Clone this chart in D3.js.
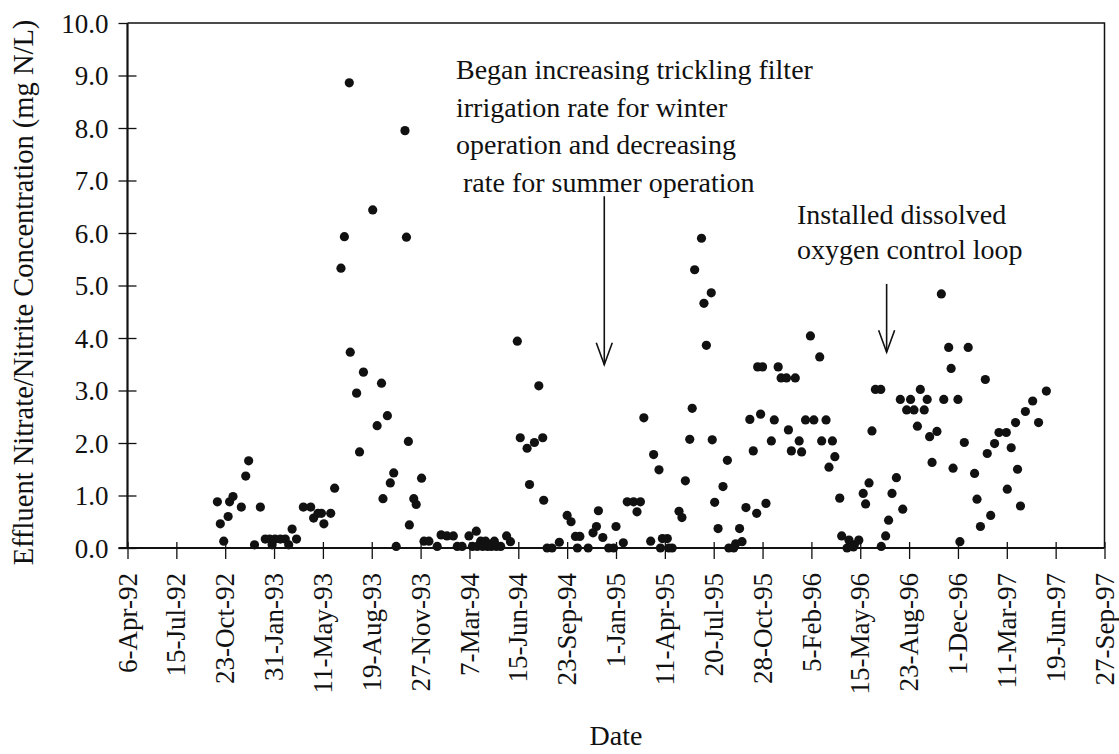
<!DOCTYPE html>
<html>
<head>
<meta charset="utf-8">
<script src="https://cdn.jsdelivr.net/npm/d3@7"></script>
<style>
  body { margin: 0; background: #fff; }
  text { font-family: "Liberation Serif", "Times New Roman", serif; fill: #111; }
</style>
</head>
<body>
<svg id="chart" width="1119" height="754"></svg>
<script>
// axis extent and ticks
const startDate = new Date(Date.UTC(1992, 3, 6));
const endDate = new Date(Date.UTC(1997, 8, 27));
const tickStepDays = 100;
const yTickValues = d3.range(0, 11);

// samples: days after 6-Apr-92, effluent NO3/NO2 (mg N/L)
const sampleDays = [
  184, 190, 197, 206, 209, 216, 233, 242, 248, 260,
  272, 282, 291, 296, 302, 313, 323, 330, 337, 346,
  360, 375, 381, 390, 397, 402, 416, 424, 437, 444,
  454, 456, 469, 475, 483, 502, 511, 520, 523, 532,
  538, 545, 550, 568, 571, 575, 577, 586, 591, 602,
  607, 617, 634, 642, 654, 667, 675, 685, 699, 706,
  714, 716, 723, 727, 733, 737, 745, 751, 755, 764,
  776, 784, 798, 804, 818, 823, 833, 842, 850, 852,
  859, 869, 884, 900, 908, 917, 921, 926, 943, 953,
  960, 964, 973, 985, 995, 1000, 1015, 1023, 1036, 1043,
  1050, 1057, 1071, 1077, 1088, 1091, 1095, 1105, 1108, 1115,
  1129, 1135, 1142, 1151, 1156, 1161, 1175, 1180, 1185, 1195,
  1197, 1202, 1209, 1219, 1228, 1231, 1241, 1245, 1253, 1258,
  1266, 1274, 1281, 1288, 1290, 1296, 1300, 1307, 1318, 1324,
  1332, 1338, 1349, 1353, 1359, 1367, 1375, 1380, 1388, 1398,
  1405, 1417, 1421, 1430, 1436, 1443, 1448, 1458, 1462, 1473,
  1477, 1486, 1488, 1497, 1506, 1511, 1518, 1524, 1531, 1542,
  1543, 1552, 1558, 1565, 1574, 1582, 1587, 1595, 1603, 1610,
  1617, 1623, 1631, 1637, 1642, 1647, 1657, 1666, 1671, 1681,
  1686, 1690, 1700, 1704, 1713, 1721, 1734, 1739, 1746, 1756,
  1760, 1767, 1775, 1784, 1799, 1801, 1809, 1818, 1822, 1828,
  1838, 1853, 1865, 1881
];
const nitrate = [
  0.88, 0.46, 0.13, 0.60, 0.88, 0.98, 0.78, 1.37, 1.66, 0.06,
  0.78, 0.17, 0.17, 0.06, 0.17, 0.17, 0.17, 0.06, 0.36, 0.17,
  0.78, 0.78, 0.57, 0.66, 0.66, 0.46, 0.66, 1.14, 5.33, 5.93,
  8.86, 3.73, 2.95, 1.83, 3.35, 6.44, 2.33, 3.14, 0.94, 2.52,
  1.24, 1.43, 0.03, 7.95, 5.92, 2.03, 0.44, 0.94, 0.83, 1.33,
  0.13, 0.13, 0.03, 0.25, 0.23, 0.23, 0.03, 0.03, 0.23, 0.03,
  0.32, 0.03, 0.13, 0.03, 0.13, 0.03, 0.03, 0.13, 0.03, 0.03,
  0.23, 0.12, 3.94, 2.10, 1.90, 1.21, 2.01, 3.09, 2.10, 0.91,
  0.00, 0.00, 0.11, 0.62, 0.50, 0.22, 0.00, 0.22, 0.00, 0.29,
  0.41, 0.71, 0.20, 0.00, 0.00, 0.41, 0.10, 0.88, 0.88, 0.69,
  0.88, 2.48, 0.13, 1.78, 1.49, 0.00, 0.18, 0.18, 0.00, 0.00,
  0.70, 0.58, 1.28, 2.07, 2.66, 5.30, 5.90, 4.66, 3.86, 4.86,
  2.06, 0.87, 0.37, 1.17, 1.67, 0.00, 0.00, 0.08, 0.37, 0.12,
  0.77, 2.45, 1.85, 0.66, 3.45, 2.55, 3.45, 0.85, 2.04, 2.44,
  3.45, 3.24, 3.24, 2.25, 1.85, 3.24, 2.04, 1.83, 2.44, 4.04,
  2.44, 3.64, 2.04, 2.44, 1.54, 2.04, 1.74, 0.95, 0.23, 0.00,
  0.15, 0.02, 0.06, 0.15, 1.04, 0.84, 1.24, 2.23, 3.02, 3.02,
  0.03, 0.23, 0.53, 1.04, 1.34, 2.83, 0.74, 2.63, 2.83, 2.63,
  2.32, 3.02, 2.63, 2.83, 2.12, 1.63, 2.22, 4.84, 2.83, 3.82,
  3.42, 1.52, 2.83, 0.12, 2.01, 3.82, 1.42, 0.93, 0.41, 3.21,
  1.80, 0.62, 1.99, 2.20, 2.20, 1.12, 1.91, 2.39, 1.50, 0.80,
  2.60, 2.80, 2.39, 2.99
];

// annotations
const noteIrrigation = [
  "Began increasing trickling filter",
  "irrigation rate for winter",
  "operation and decreasing",
  " rate for summer operation"
];
const noteOxygen = ["Installed dissolved", "oxygen control loop"];
const arrowDays = [976, 1554];
const arrowFrom = [6.7, 5.03];
const arrowTo = [3.49, 3.73];

const svg = d3.select("#chart");
const plotLeft = 127.5, plotRight = 1104.5, plotTop = 23, plotBottom = 548;

const x = d3.scaleUtc().domain([startDate, endDate]).range([plotLeft, plotRight]);
const y = d3.scaleLinear().domain([0, 10]).range([plotBottom, plotTop]);

const tickDates = d3.range(0, 2001, tickStepDays).map(d => d3.utcDay.offset(startDate, d));
const fmt = d3.utcFormat("%-d-%b-%y");

// frame: thin top/right, heavier axes
svg.append("path")
  .attr("d", `M${plotLeft},${plotTop}H${plotRight}V${plotBottom}`)
  .attr("fill", "none").attr("stroke", "#111").attr("stroke-width", 1.5);

// x axis
const gx = svg.append("g")
  .attr("transform", `translate(0,${plotBottom})`)
  .call(d3.axisBottom(x).tickValues(tickDates).tickFormat(fmt).tickSize(11));
gx.select(".domain").remove();
gx.selectAll(".tick line").attr("y1", -6).attr("stroke", "#111").attr("stroke-width", 1.3);
gx.selectAll(".tick text")
  .attr("transform", "translate(0,25) rotate(-90)")
  .attr("x", 0).attr("y", 0).attr("dy", "0.32em")
  .attr("text-anchor", "end")
  .attr("font-size", 27)
  .attr("fill", "#111");

// y axis
const gy = svg.append("g")
  .attr("transform", `translate(${plotLeft},0)`)
  .call(d3.axisLeft(y).tickValues(yTickValues).tickFormat(d3.format(".1f")).tickSize(9));
gy.select(".domain").remove();
gy.selectAll(".tick line").attr("x2", d => d === 10 ? 0 : 9).attr("x1", -9)
  .attr("stroke", "#111").attr("stroke-width", 1.3);
gy.selectAll(".tick text")
  .attr("x", -19).attr("dy", "0.34em")
  .attr("font-size", 27)
  .attr("fill", "#111");

svg.append("line")
  .attr("x1", plotLeft).attr("x2", plotLeft).attr("y1", plotTop).attr("y2", plotBottom)
  .attr("stroke", "#111").attr("stroke-width", 2.2);
svg.append("line")
  .attr("x1", plotLeft - 9).attr("x2", plotRight).attr("y1", plotBottom).attr("y2", plotBottom)
  .attr("stroke", "#111").attr("stroke-width", 2.2);

// axis titles
svg.append("text")
  .attr("x", (plotLeft + plotRight) / 2).attr("y", 745)
  .attr("text-anchor", "middle").attr("font-size", 28)
  .text("Date");
svg.append("text")
  .attr("transform", `translate(33,${(plotTop + plotBottom) / 2 + 7}) rotate(-90)`)
  .attr("text-anchor", "middle").attr("font-size", 28.5)
  .text("Effluent Nitrate/Nitrite Concentration (mg N/L)");

// points
svg.append("g")
  .selectAll("circle")
  .data(d3.range(sampleDays.length))
  .join("circle")
  .attr("cx", i => x(d3.utcDay.offset(startDate, sampleDays[i])))
  .attr("cy", i => y(nitrate[i]))
  .attr("r", 4.6)
  .attr("fill", "#111");

// notes
svg.append("text")
  .attr("font-size", 28)
  .attr("xml:space", "preserve")
  .selectAll("tspan")
  .data(noteIrrigation)
  .join("tspan")
  .attr("x", 456)
  .attr("y", (d, i) => 79 + i * 37.7)
  .text(d => d);

svg.append("text")
  .attr("font-size", 28)
  .selectAll("tspan")
  .data(noteOxygen)
  .join("tspan")
  .attr("x", 797)
  .attr("y", (d, i) => 224 + i * 35)
  .text(d => d);

const arrows = svg.append("g").attr("fill", "none").attr("stroke", "#111").attr("stroke-width", 1.6);
arrowDays.forEach((d, i) => {
  const ax = x(d3.utcDay.offset(startDate, d));
  const y0 = y(arrowFrom[i]), y1 = y(arrowTo[i]);
  arrows.append("line").attr("x1", ax).attr("x2", ax).attr("y1", y0).attr("y2", y1);
  arrows.append("path").attr("d", `M${ax - 8},${y1 - 22}L${ax},${y1}L${ax + 8},${y1 - 22}`);
});
</script>
</body>
</html>
